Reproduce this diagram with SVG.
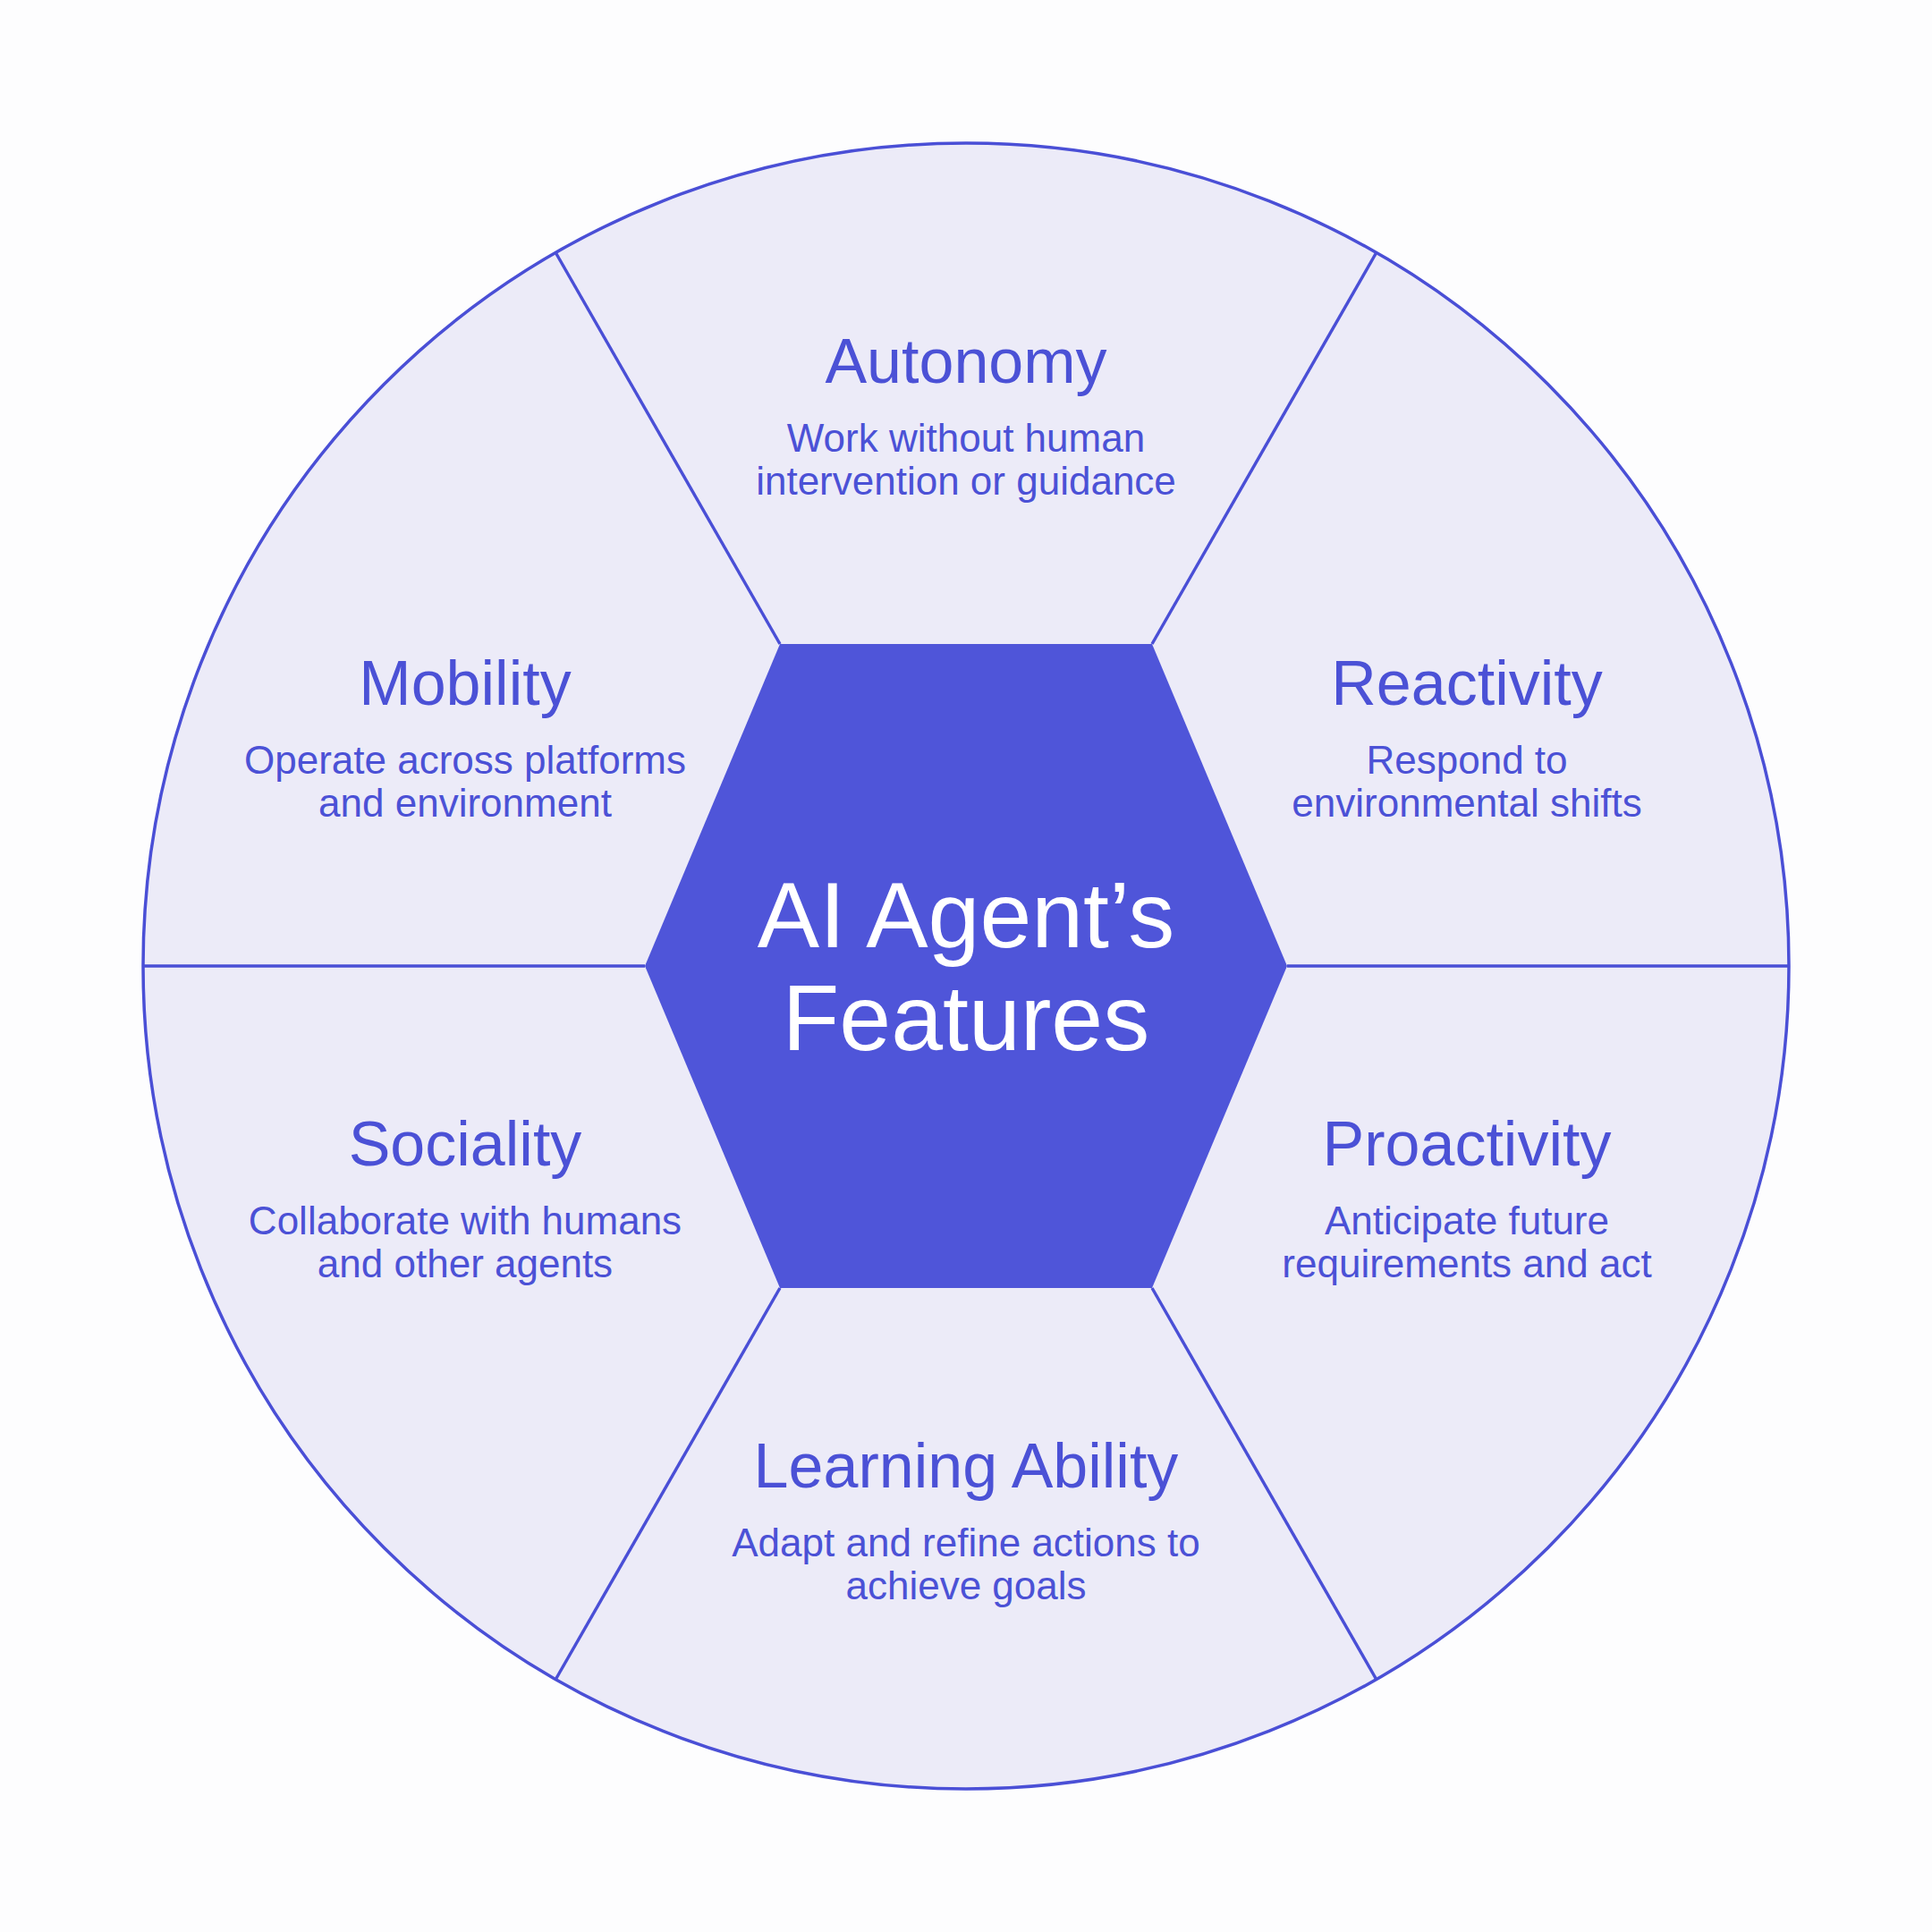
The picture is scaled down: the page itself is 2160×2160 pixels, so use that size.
<svg xmlns="http://www.w3.org/2000/svg" width="2160" height="2160" viewBox="0 0 2160 2160">
<style>
.h{font-family:"Liberation Sans",Arial,sans-serif;font-size:70px;fill:#4B51D6;text-anchor:middle}
.s{font-family:"Liberation Sans",Arial,sans-serif;font-size:44px;fill:#4B51D6;text-anchor:middle}
.c{font-family:"Liberation Sans",Arial,sans-serif;font-size:104px;fill:#FFFFFF;text-anchor:middle}
.ln{stroke:#4A4FD6;stroke-width:3.5;fill:none}
</style>
<rect width="2160" height="2160" fill="#FDFDFE"/>
<g id="wheel">
<circle cx="1080" cy="1080" r="920" fill="#ECEBF8" stroke="#4A4FD6" stroke-width="3.5"/>
</g>
<g id="connectors">
<line class="ln" x1="872" y1="720" x2="621" y2="282"/>
<line class="ln" x1="1288" y1="720" x2="1539" y2="282"/>
<line class="ln" x1="721" y1="1080" x2="160" y2="1080"/>
<line class="ln" x1="1439" y1="1080" x2="2000" y2="1080"/>
<line class="ln" x1="872" y1="1440" x2="621" y2="1878"/>
<line class="ln" x1="1288" y1="1440" x2="1539" y2="1878"/>
</g>
<g id="center">
<polygon points="872,720 1288,720 1439,1080 1288,1440 872,1440 721,1080" fill="#4F55D9"/>
<text class="c" x="1080" y="1059">AI Agent’s</text>
<text class="c" x="1080" y="1174">Features</text>
</g>
<g id="autonomy">
<text class="h" x="1080" y="428">Autonomy</text>
<text class="s" x="1080" y="505">Work without human</text>
<text class="s" x="1080" y="553">intervention or guidance</text>
</g>
<g id="mobility">
<text class="h" x="520" y="788">Mobility</text>
<text class="s" x="520" y="865">Operate across platforms</text>
<text class="s" x="520" y="913">and environment</text>
</g>
<g id="reactivity">
<text class="h" x="1640" y="788">Reactivity</text>
<text class="s" x="1640" y="865">Respond to</text>
<text class="s" x="1640" y="913">environmental shifts</text>
</g>
<g id="sociality">
<text class="h" x="520" y="1303">Sociality</text>
<text class="s" x="520" y="1380">Collaborate with humans</text>
<text class="s" x="520" y="1428">and other agents</text>
</g>
<g id="proactivity">
<text class="h" x="1640" y="1303">Proactivity</text>
<text class="s" x="1640" y="1380">Anticipate future</text>
<text class="s" x="1640" y="1428">requirements and act</text>
</g>
<g id="learning">
<text class="h" x="1080" y="1663">Learning Ability</text>
<text class="s" x="1080" y="1740">Adapt and refine actions to</text>
<text class="s" x="1080" y="1788">achieve goals</text>
</g>
</svg>
